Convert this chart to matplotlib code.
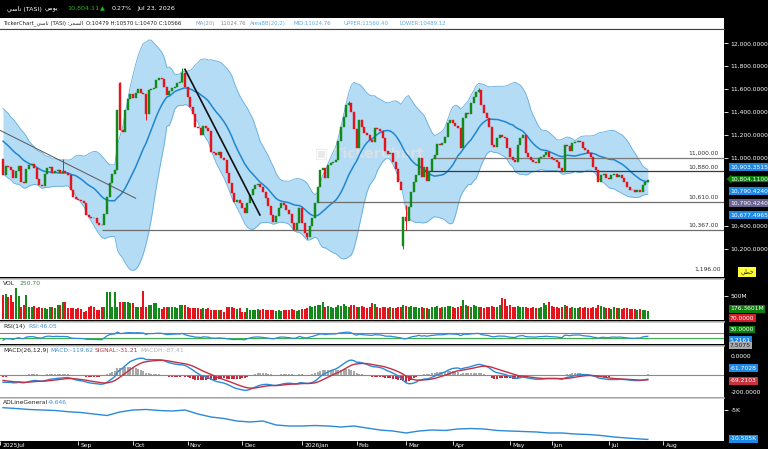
import numpy as np
import pandas as pd
import matplotlib
matplotlib.use("Agg")
import matplotlib.pyplot as plt
from matplotlib.ticker import FuncFormatter

# ---------------- data ----------------
# closes before the first visible candle (only used for indicator warm-up)
warmup = [11340, 11320, 11350, 11300, 11280, 11250, 11270, 11210, 11180, 11200,
          11130, 11090, 11110, 11050, 11010, 11030, 10980, 10960, 10990]

closes = [
    10850, 10930, 10920, 10890, 10820, 10880, 10930, 10790, 10780, 10900,
    10935, 10945, 10910, 10810, 10760, 10755, 10860, 10910, 10920, 10870,
    10880, 10895, 10870, 10880, 10870, 10850, 10720, 10660, 10640, 10630,
    10620, 10600, 10500, 10485, 10475, 10470, 10430, 10415, 10410, 10510,
    10655, 10780, 10860, 10890, 11420, 11240, 11225, 11420, 11510, 11560,
    11520, 11570, 11600, 11570, 11560, 11380, 11590, 11600, 11610, 11680,
    11700, 11690, 11620, 11550, 11580, 11610, 11620, 11650, 11660, 11745,
    11620, 11530, 11440, 11380, 11270, 11260, 11200, 11280, 11260, 11230,
    11050, 11040, 11020, 11050, 11000, 10980, 10870, 10780, 10690, 10610,
    10630, 10600, 10560, 10515, 10600, 10670, 10730, 10760, 10770, 10740,
    10700, 10650, 10580, 10500, 10440, 10490, 10560, 10600, 10590, 10540,
    10510, 10430, 10370, 10430, 10560, 10430, 10340, 10310, 10400, 10470,
    10600, 10740, 10890, 10910, 10820, 10935, 10950, 10960, 10980, 11150,
    11270, 11355, 11460, 11480, 11400, 11250, 11085, 11330, 11270, 11220,
    11200, 11155, 11140, 11260, 11250, 11230, 11170, 11060, 11030, 11040,
    10960, 10900, 10790, 10720, 10480, 10450, 10570, 10700, 10785, 10850,
    11000, 10830, 10920, 10800, 10880, 10990, 11020, 11120, 11110, 11125,
    11180, 11300, 11330, 11300, 11280, 11260, 11085, 11345, 11390, 11380,
    11480, 11530, 11575, 11590, 11460, 11390, 11350, 11270, 11110, 11090,
    11170, 11200, 11180, 11175, 11085, 11005, 10980, 10960, 11110, 11170,
    11200, 11040, 11005, 10980, 10965, 10955, 11000, 11010, 11020, 11050,
    11005, 10990, 10980, 10960, 10910, 10875, 11110, 11100, 11060, 11125,
    11140, 11150, 11140, 11085, 11065, 11040, 11005, 10920, 10890, 10790,
    10850, 10860, 10820, 10810, 10850, 10855, 10830, 10850, 10820, 10790,
    10745, 10720, 10715, 10700, 10720, 10700, 10760, 10790, 10804.11,
]

# opens differing from the previous close (gaps)
open_overrides = {0: 10990, 45: 11650, 154: 10230}
# visible wick extremes
high_overrides = {23: 10990, 45: 11665, 69: 11785, 133: 11500, 155: 10590, 183: 11610}
low_overrides = {55: 11330, 117: 10290, 154: 10200, 155: 10370}

volumes = [  # millions
    520, 540, 480, 510, 370, 660, 500, 260, 300, 510,
    260, 255, 265, 240, 245, 235, 225, 220, 260, 250,
    225, 300, 290, 370, 360, 240, 235, 225, 220, 230,
    200, 150, 160, 260, 265, 255, 190, 185, 260, 255,
    585, 570, 260, 585, 260, 370, 365, 370, 360, 335,
    330, 260, 255, 250, 600, 260, 300, 295, 335, 330,
    225, 220, 260, 255, 260, 260, 250, 240, 300, 295,
    300, 245, 240, 235, 240, 225, 220, 225, 220, 230,
    190, 185, 195, 190, 185, 150, 260, 255, 260, 225,
    220, 225, 150, 155, 225, 190, 185, 195, 200, 190,
    200, 185, 195, 180, 190, 170, 185, 175, 190, 180,
    195, 200, 185, 175, 190, 200, 210, 230, 280, 250,
    270, 300, 290, 370, 260, 280, 250, 240, 260, 300,
    280, 310, 270, 260, 300, 290, 260, 250, 270, 260,
    240, 250, 330, 320, 260, 240, 250, 260, 240, 250,
    240, 230, 260, 250, 300, 280, 260, 270, 250, 260,
    240, 250, 230, 240, 220, 250, 260, 270, 240, 250,
    260, 280, 270, 250, 240, 260, 280, 400, 300, 270,
    260, 300, 280, 260, 250, 240, 260, 250, 270, 260,
    250, 300, 440, 420, 280, 300, 260, 250, 270, 260,
    250, 260, 240, 230, 250, 240, 230, 250, 330, 300,
    360, 280, 260, 250, 240, 260, 300, 270, 240, 250,
    230, 240, 250, 230, 260, 240, 230, 250, 240, 290,
    270, 250, 240, 230, 220, 250, 240, 230, 220, 240,
    230, 220, 200, 210, 190, 200, 185, 190, 176.36,
]

# A/D line, one reading every 5 sessions plus the last session
ad_values = [-4570, -4720, -4900, -5000, -5090, -5320, -5470, -5750, -6030, -5370,
             -5000, -4900, -5090, -5190, -5000, -5750, -6310, -6590, -7060, -7240,
             -7060, -7800, -7990, -7990, -7900, -7990, -8180, -7990, -8370, -8740,
             -8930, -9300, -8930, -8740, -8830, -8550, -8460, -8550, -8830, -8930,
             -9020, -9110, -9300, -9300, -9490, -9580, -9770, -10050, -10240, -10420,
             -10505]

# month boundaries (session index) and labels
month_idx = [-1, 29, 50, 71, 92, 115, 136, 155, 173, 195, 211, 233, 254]
month_lbl = ["2025Jul", "Sep", "Oct", "Nov", "Dec", "2026Jan", "Feb", "Mar",
             "Apr", "May", "Jun", "Jul", "Aug"]

# price-axis labels that are visible (10,800 and 10,600 sit under value boxes)
price_ticks = [10200, 10400, 11000, 11200, 11400, 11600, 11800, 12000]

# horizontal support/resistance levels and the session where each starts
level_values = [11000, 10880, 10610, 10367]
level_start = [165, 162, 121, 38]
level_colors = ["#7a7a7a", "#3a3a3a", "#6e6e6e", "#6e6e6e"]

# trend lines: (start idx, start price, end idx, end price)
trend_lines = [(-1.2, 11240, 51, 10645), (70, 11773, 98.8, 10499)]

# ---------------- derived indicators ----------------
n = len(closes)
idx = np.arange(n)
k = len(warmup)
s_all = pd.Series(warmup + closes, dtype=float)
ma = s_all.rolling(20).mean().values[k:]
sd = s_all.rolling(20).std(ddof=0).values[k:]
upper = ma + 2 * sd
lower = ma - 2 * sd

delta = s_all.diff()
gain = delta.clip(lower=0).ewm(alpha=1 / 14, adjust=False).mean()
loss = (-delta.clip(upper=0)).ewm(alpha=1 / 14, adjust=False).mean()
rsi = (100 - 100 / (1 + gain / loss)).values[k:]

ema12 = s_all.ewm(span=12, adjust=False).mean()
ema26 = s_all.ewm(span=26, adjust=False).mean()
macd_s = ema12 - ema26
sig_s = macd_s.ewm(span=9, adjust=False).mean()
macd = macd_s.values[k:]
signal = sig_s.values[k:]
hist = macd - signal

c = np.array(closes, dtype=float)
o = np.empty(n)
o[0] = warmup[-1]
o[1:] = c[:-1]
for i, v in open_overrides.items():
    o[i] = v

GREEN = "#13891a"
RED = "#e5141c"
up = c >= o
cols = np.where(up, GREEN, RED)

# ---------------- figure layout ----------------
W, H = 768, 449
fig = plt.figure(figsize=(W / 100, H / 100), dpi=100, facecolor="black")
FS = 4.3
TASI_AR = "\uFEF2\uFEB3\uFE8E\uFE97"      # تاسي
DAILY_AR = "\uFEF2\uFEE3\uFEEE\uFEF3"     # يومي
PRICE_AR = "\uFEAE\uFECC\uFEB4\uFEDF\uFE8D"  # السعر
LINEAR_AR = "\uFEF2\uFEC4\uFEA7"          # خطي


def rect(x0, y0, x1, y1):
    return [x0 / W, 1 - y1 / H, (x1 - x0) / W, (y1 - y0) / H]


def fy(py):
    return 1 - py / H


XL = (-1.154, 277.3)

# header (black band)
for px, t, col in [(7, TASI_AR + " (TASI)", "white"), (45, DAILY_AR, "white"),
                   (67, "10,804.11", "#22b422"), (100, "\u25B2", "#22b422"),
                   (112, "0.27%", "white"), (137, "Jul 23, 2026", "white")]:
    fig.text(px / W, fy(8.5), t, color=col, fontsize=4.6, va="center")

# info bar
axi = fig.add_axes(rect(0, 18, 724, 29))
axi.set_xlim(0, 724)
axi.set_ylim(0, 1)
axi.set_facecolor("white")
axi.set_xticks([]); axi.set_yticks([])
for sp in axi.spines.values():
    sp.set_visible(False)
axi.axhline(0.02, color="#444444", lw=0.8)
info = [(3, "TickerChart_" + TASI_AR + " (TASI) :" + PRICE_AR, "#222222"),
        (86, "O:10479 H:10570 L:10470 C:10566", "#222222"),
        (196, "MA(20)", "#7f9cc4"),
        (220, "11024.76", "#8a8a8a"),
        (250, "AreaBB(20,2)", "#5aaee2"),
        (294, "MID:11024.76", "#5aaee2"),
        (343, "UPPER:11560.40", "#5aaee2"),
        (400, "LOWER:10489.12", "#5aaee2")]
for x, t, col in info:
    axi.text(x, 0.5, t, color=col, fontsize=3.9, va="center", ha="left")

# ---------------- main price chart ----------------
ax = fig.add_axes(rect(0, 29, 724, 277))
ax.set_facecolor("white")
ax.set_xlim(*XL)
ax.set_ylim(9956, 12126)
ax.fill_between(idx, lower, upper, color="#b5dcf5", lw=0, zorder=1)
ax.plot(idx, upper, color="#62ace0", lw=0.6, zorder=1.2)
ax.plot(idx, lower, color="#62ace0", lw=0.6, zorder=1.2)
ax.plot(idx, ma, color="#1f86d2", lw=1.1, zorder=2)

ax.text(0.435, 0.5, "\u25A3 TickerChart", transform=ax.transAxes, fontsize=10,
        color="#e2e2e2", alpha=0.75, fontweight="bold", va="center", ha="left", zorder=1.5)

for lv, st, lc in zip(level_values, level_start, level_colors):
    ax.hlines(lv, st, XL[1], color=lc, lw=0.9, zorder=2.2)
    ax.annotate(f"{lv:,.2f}", xy=(1, lv), xycoords=("axes fraction", "data"),
                xytext=(-4, 1.5), textcoords="offset points", ha="right", va="bottom",
                fontsize=FS, color="#333333")
ax.text(0.995, 0.02, "1,196.00", transform=ax.transAxes, ha="right", va="bottom",
        fontsize=FS, color="#333333")

for x0, y0, x1, y1 in trend_lines[:1]:
    ax.plot([x0, x1], [y0, y1], color="#555555", lw=0.7, zorder=4)
for x0, y0, x1, y1 in trend_lines[1:]:
    ax.plot([x0, x1], [y0, y1], color="#111111", lw=1.2, zorder=4)

ax.bar(idx, np.abs(c - o), bottom=np.minimum(c, o), width=0.72, color=cols,
       edgecolor=cols, linewidth=0.3, zorder=3)
wick_ids = sorted(set(high_overrides) | set(low_overrides))
for i in wick_ids:
    hi = high_overrides.get(i, max(c[i], o[i]))
    lo = low_overrides.get(i, min(c[i], o[i]))
    ax.vlines(i, lo, hi, color=cols[i], lw=0.7, zorder=3)

ax.set_xticks([])
ax.set_yticks(price_ticks)
ax.yaxis.set_major_formatter(FuncFormatter(lambda v, p: f"{v:,.4f}"))
ax.tick_params(axis="y", colors="white", labelsize=FS, length=3, width=0.6, pad=1.5,
               right=True, left=False, labelright=True, labelleft=False)
for sp in ["left", "right", "bottom"]:
    ax.spines[sp].set_visible(False)
ax.spines["top"].set_color("#444444")
ax.spines["top"].set_linewidth(0.8)


def sub_axes(y0, y1):
    a = fig.add_axes(rect(0, y0, 724, y1))
    a.set_facecolor("white")
    a.set_xlim(*XL)
    a.set_xticks([])
    for sp in ["left", "right", "bottom"]:
        a.spines[sp].set_visible(False)
    a.spines["top"].set_color("#c4c4c4")
    a.spines["top"].set_linewidth(1.2)
    a.tick_params(axis="y", colors="white", labelsize=FS, length=3, width=0.6, pad=1.5,
                  right=True, left=False, labelright=True, labelleft=False)
    return a


# volume
axv = sub_axes(279, 320)
axv.set_ylim(-28, 861)
axv.bar(idx, volumes, width=0.8, color=cols, linewidth=0)
axv.set_yticks([500])
axv.set_yticklabels(["500M"])

# RSI
axr = sub_axes(322, 344)
axr.set_ylim(-15.6, 160.4)
axr.axhline(70, color="#e05a5a", lw=0.8)
axr.axhline(30, color="#3cb44b", lw=0.8)
axr.plot(idx, rsi, color="#2a8ad8", lw=0.9)
axr.set_yticks([])

# MACD
axm = sub_axes(346, 397)
axm.set_ylim(-308, 406)
hcols = np.where(hist >= 0, "#a9a9a9", "#c32a3c")
axm.bar(idx, hist, width=0.72, color=hcols, linewidth=0)
axm.axhline(0, color="#8a8a8a", lw=0.8)
axm.plot(idx, macd, color="#2a8ad8", lw=1.0)
axm.plot(idx, signal, color="#c03048", lw=1.0)
axm.set_yticks([])

# A/D line
axa = sub_axes(398, 441)
axa.set_ylim(-10797, -2756)
ad_idx = list(range(0, n, 5)) + [n - 1]
axa.plot(ad_idx, ad_values, color="#2a8ad8", lw=1.0)
axa.set_yticks([-5000])
axa.set_yticklabels(["-5K"])


# panel captions (pixel positions)
def cap(px, py, t, col):
    fig.text(px / W, fy(py), t, color=col, fontsize=FS, va="center", ha="left")


cap(3, 283.5, "VOL", "#222222")
cap(20, 283.5, "250.70", "#2e8b3a")
cap(3, 326.5, "RSI(14)", "#222222")
cap(28, 326.5, "RSI:46.05", "#3d8fd6")
cap(3, 350.5, "MACD(26,12,9)", "#222222")
cap(50, 350.5, "MACD:-119.62", "#3d8fd6")
cap(95, 350.5, "SIGNAL:-31.21", "#b03a48")
cap(140, 350.5, "MACDH:-87.41", "#b0b0b0")
cap(3, 402.5, "ADLineGeneral", "#222222")
cap(48, 402.5, "-9.646", "#3d8fd6")

# x axis strip
axx = fig.add_axes(rect(0, 441, 724, 449))
axx.set_facecolor("black")
axx.set_xlim(*XL)
axx.set_ylim(0, 1)
axx.set_xticks([]); axx.set_yticks([])
for sp in axx.spines.values():
    sp.set_visible(False)
for mi, ml in zip(month_idx, month_lbl):
    axx.vlines(mi, 0.55, 1.0, color="white", lw=0.6)
    axx.text(mi + 0.8, 0.42, ml, color="white", fontsize=FS, va="center", ha="left")

# right-strip value boxes
boxes = [("10,903.3515", 167, "#1e88e5", "white", "square,pad=0.18"),
         ("10,804.1100", 179, "#0b7d0b", "white", "larrow,pad=0.1"),
         ("10,790.4240", 191, "#1e88e5", "white", "square,pad=0.18"),
         ("10,790.4240", 203, "#6b6490", "white", "square,pad=0.18"),
         ("10,677.4965", 215, "#1e88e5", "white", "square,pad=0.18"),
         ("176.3601M", 309, "#0b7d0b", "white", "square,pad=0.18"),
         ("70.0000", 318, "#d21e28", "white", "square,pad=0.18"),
         ("30.0000", 329.5, "#0b7d0b", "white", "square,pad=0.18"),
         ("5.2161", 340, "#1e88e5", "white", "square,pad=0.18"),
         ("7.5075", 345.5, "#a8a8a8", "#222222", "square,pad=0.18"),
         ("-61.7028", 368, "#1e88e5", "white", "square,pad=0.18"),
         ("-69.2103", 381, "#c8323c", "white", "square,pad=0.18"),
         ("-10.505K", 439, "#1e88e5", "white", "square,pad=0.18")]
for t, py, fc, tc, bs in boxes:
    fig.text(730 / W, fy(py), t, color=tc, fontsize=FS, va="center", ha="left",
             bbox=dict(boxstyle=bs, fc=fc, ec="none"))
fig.text(747 / W, fy(272), LINEAR_AR, color="#222222", fontsize=FS, va="center", ha="center",
         bbox=dict(boxstyle="square,pad=0.3", fc="#ffff33", ec="none"))
# MACD scale labels as drawn in the reference
for t, py in [("0.0000", 357), ("-200.0000", 392)]:
    fig.text(731 / W, fy(py), t, color="white", fontsize=FS, va="center", ha="left")

fig.savefig("out.png", dpi=100, facecolor="black")
